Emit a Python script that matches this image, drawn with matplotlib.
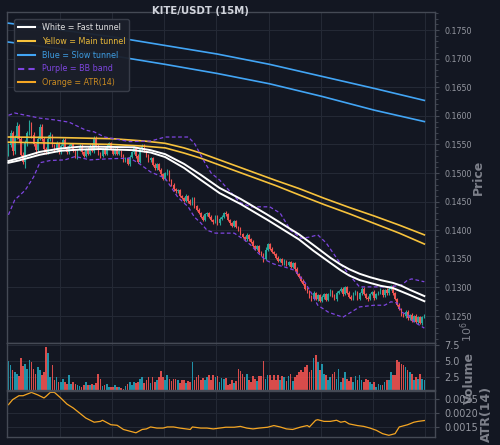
import numpy as np
import matplotlib
matplotlib.use("Agg")
import matplotlib.pyplot as plt
from matplotlib.ticker import MultipleLocator, AutoMinorLocator, FixedLocator
from matplotlib.lines import Line2D

# ---------------- data ----------------
first_open = 0.1535
closes = [
    0.1549, 0.1570, 0.1538, 0.1562, 0.1582, 0.1560, 0.1532, 0.1520, 0.1552, 0.1570,
    0.1586, 0.1566, 0.1550, 0.1540, 0.1560, 0.1580, 0.1560, 0.1542, 0.1536, 0.1560,
    0.1566, 0.1548, 0.1540, 0.1552, 0.1536, 0.1548, 0.1558, 0.1546, 0.1536, 0.1548,
    0.1550, 0.1538, 0.1528, 0.1540, 0.1548, 0.1536, 0.1530, 0.1542, 0.1534, 0.1548,
    0.1538, 0.1562, 0.1548, 0.1534, 0.1530, 0.1542, 0.1534, 0.1548, 0.1552, 0.1542,
    0.1534, 0.1542, 0.1534, 0.1538, 0.1530, 0.1522, 0.1526, 0.1516, 0.1528, 0.1536,
    0.1544, 0.1530, 0.1520, 0.1542, 0.1548, 0.1538, 0.1530, 0.1522, 0.1526, 0.1514,
    0.1508, 0.1516, 0.1506, 0.1498, 0.1490, 0.1500, 0.1504, 0.1488, 0.1480, 0.1472,
    0.1468, 0.1470, 0.1460, 0.1456, 0.1452, 0.1460, 0.1452, 0.1446, 0.1456, 0.1442,
    0.1436, 0.1430, 0.1424, 0.1418, 0.1428, 0.1430, 0.1424, 0.1418, 0.1414, 0.1424,
    0.1412, 0.1420, 0.1424, 0.1430, 0.1428, 0.1418, 0.1412, 0.1408, 0.1416, 0.1406,
    0.1402, 0.1394, 0.1388, 0.1384, 0.1392, 0.1384, 0.1380, 0.1372, 0.1368, 0.1372,
    0.1362, 0.1358, 0.1350, 0.1366, 0.1376, 0.1368, 0.1362, 0.1358, 0.1352, 0.1346,
    0.1350, 0.1342, 0.1346, 0.1340, 0.1344, 0.1336, 0.1342, 0.1332, 0.1324, 0.1318,
    0.1312, 0.1306, 0.1298, 0.1292, 0.1284, 0.1280, 0.1290, 0.1280, 0.1286, 0.1276,
    0.1284, 0.1288, 0.1278, 0.1288, 0.1294, 0.1286, 0.1280, 0.1290, 0.1294, 0.1298,
    0.1288, 0.1300, 0.1290, 0.1284, 0.1280, 0.1290, 0.1292, 0.1280, 0.1290, 0.1298,
    0.1288, 0.1282, 0.1280, 0.1288, 0.1292, 0.1282, 0.1288, 0.1292, 0.1296, 0.1286,
    0.1296, 0.1290, 0.1298, 0.1302, 0.1290, 0.1280, 0.1270, 0.1262, 0.1254, 0.1250,
    0.1258, 0.1246, 0.1252, 0.1242, 0.1250, 0.1240, 0.1248, 0.1238, 0.1248, 0.1252,
]
# wick lengths above / below the body, in units of 0.0001
upper_wick = [
    4, 6, 3, 5, 8, 4, 3, 5, 6, 4, 7, 3, 5, 2, 4, 6, 5, 3, 4, 6,
    5, 3, 2, 4, 3, 2, 3, 4, 2, 3, 2, 3, 2, 2, 3, 2, 3, 2, 3, 2,
    4, 3, 2, 2, 3, 2, 3, 2, 2, 3, 2, 2, 3, 2, 2, 3, 2, 2, 3, 2,
    3, 2, 4, 2, 3, 2, 2, 3, 2, 2, 3, 2, 2, 3, 2, 2, 3, 2, 2, 3,
    2, 2, 3, 2, 2, 3, 2, 2, 3, 2, 2, 3, 2, 2, 3, 2, 2, 3, 2, 2,
    3, 4, 2, 2, 3, 2, 2, 3, 2, 2, 2, 3, 2, 2, 3, 2, 2, 3, 2, 2,
    3, 2, 2, 4, 2, 2, 3, 2, 2, 3, 2, 2, 3, 2, 2, 3, 2, 2, 3, 2,
    2, 3, 2, 2, 3, 2, 4, 2, 2, 3, 2, 2, 3, 2, 3, 2, 2, 3, 2, 2,
    3, 2, 2, 3, 2, 2, 3, 2, 2, 3, 2, 2, 3, 2, 2, 3, 2, 2, 3, 2,
    2, 3, 2, 2, 3, 2, 2, 3, 2, 2, 3, 2, 2, 3, 2, 3, 2, 2, 3, 2,
]
lower_wick = [
    5, 3, 6, 4, 3, 5, 3, 4, 12, 5, 3, 4, 3, 6, 3, 2, 4, 6, 3, 3,
    4, 3, 2, 3, 2, 3, 2, 3, 2, 2, 3, 2, 2, 3, 2, 3, 2, 2, 3, 2,
    2, 3, 2, 2, 3, 2, 2, 3, 2, 2, 3, 2, 2, 3, 2, 2, 3, 2, 4, 2,
    2, 3, 2, 2, 3, 2, 2, 3, 2, 2, 3, 2, 2, 3, 2, 2, 3, 2, 2, 3,
    2, 3, 2, 2, 3, 2, 4, 2, 2, 3, 2, 2, 3, 2, 2, 3, 2, 2, 3, 2,
    2, 3, 2, 2, 3, 2, 2, 3, 2, 2, 3, 2, 2, 3, 2, 2, 3, 2, 2, 3,
    2, 3, 5, 2, 2, 3, 2, 2, 3, 2, 2, 3, 2, 2, 3, 2, 2, 3, 2, 2,
    2, 2, 3, 2, 2, 3, 2, 2, 3, 2, 2, 4, 2, 2, 3, 2, 2, 3, 2, 2,
    3, 2, 2, 3, 2, 2, 3, 2, 2, 3, 2, 2, 3, 2, 2, 3, 2, 2, 3, 2,
    2, 3, 3, 2, 3, 2, 3, 2, 3, 2, 3, 2, 3, 2, 3, 2, 3, 2, 3, 2,
]
# volume in millions
volume_m = [
    5.0, 4.3, 3.5, 3.3, 3.0, 2.6, 5.5, 4.2, 4.6, 3.8, 5.2, 4.8, 3.8, 3.0, 4.1, 3.5, 2.8, 3.2, 7.2, 6.3,
    2.5, 4.3, 1.9, 2.5, 1.7, 1.7, 2.1, 1.7, 1.4, 2.8, 1.3, 1.6, 1.3, 1.2, 1.0, 0.9, 1.2, 1.7, 1.1, 1.1,
    1.3, 1.2, 1.45, 3.0, 2.1, 1.0, 1.1, 1.3, 0.9, 0.8, 0.9, 1.2, 0.8, 0.9, 0.7, 0.6, 1.0, 1.3, 1.6, 1.2,
    1.7, 1.45, 1.6, 2.1, 2.5, 1.45, 1.9, 2.5, 1.45, 2.4, 1.7, 2.0, 2.5, 3.4, 2.5, 2.0, 2.8, 2.2, 1.8, 2.2,
    2.1, 2.0, 1.5, 1.9, 2.0, 1.5, 1.8, 1.7, 4.8, 1.9, 2.4, 2.8, 2.0, 2.3, 2.0, 2.4, 2.8, 1.9, 2.8, 2.5,
    2.6, 1.7, 2.3, 2.1, 2.3, 1.2, 1.3, 1.9, 1.5, 1.8, 3.8, 3.4, 3.0, 2.4, 2.9, 2.0, 1.7, 2.6, 2.2, 1.8,
    2.6, 2.6, 5.0, 2.1, 2.7, 2.8, 1.9, 2.8, 2.0, 2.7, 1.9, 2.6, 2.4, 1.8, 2.6, 3.0, 1.8, 2.4, 2.8, 3.2,
    3.6, 3.2, 4.0, 4.3, 3.3, 3.6, 5.5, 6.0, 4.8, 3.6, 4.5, 3.0, 2.8, 2.0, 2.4, 2.9, 3.2, 2.2, 3.7, 1.6,
    2.3, 3.3, 2.2, 1.8, 2.4, 1.7, 2.6, 2.0, 2.8, 2.0, 1.6, 2.1, 1.9, 1.6, 1.4, 1.6, 0.9, 1.3, 1.2, 1.2,
    1.7, 1.9, 2.0, 3.2, 2.8, 2.8, 5.2, 4.9, 4.6, 4.3, 4.0, 3.6, 3.3, 3.0, 2.0, 2.4, 2.2, 3.0, 2.1, 2.0,
]

# indicator lines, sampled at candle indices
fast_idx = [0, 5, 15, 25, 34, 44, 60, 68, 75, 84, 92, 101, 111, 124, 139, 146, 154, 159, 163, 168,
            173, 178, 184, 188, 192, 199]
fast_upper = [0.1521, 0.1526, 0.1537, 0.1543, 0.1546, 0.1546, 0.1545, 0.1540, 0.1533, 0.1516, 0.1497,
              0.1474, 0.1455, 0.1427, 0.1393, 0.1374, 0.1352, 0.1340, 0.1332, 0.1324, 0.1318, 0.1313,
              0.1308, 0.1303, 0.1296, 0.1285]
fast_lower = [0.1518, 0.1522, 0.1532, 0.1539, 0.1541, 0.1542, 0.1540, 0.1536, 0.1528, 0.1509, 0.1488,
              0.1465, 0.1446, 0.1418, 0.1384, 0.1364, 0.1343, 0.1330, 0.1321, 0.1313, 0.1308, 0.1303,
              0.1299, 0.1293, 0.1287, 0.1276]

main_idx = [0, 25, 50, 65, 75, 84, 92, 104, 116, 128, 139, 151, 163, 175, 187, 199]
main_upper = [0.1563, 0.1562, 0.1560, 0.1556, 0.1552, 0.1544, 0.1535, 0.1519, 0.1503, 0.1487, 0.1473,
              0.1456, 0.1440, 0.1425, 0.1409, 0.1392]
main_lower = [0.1554, 0.1552, 0.1550, 0.1547, 0.1544, 0.1535, 0.1526, 0.1510, 0.1494, 0.1478, 0.1462,
              0.1445, 0.1429, 0.1412, 0.1395, 0.1376]

slow_idx = [0, 25, 50, 75, 100, 125, 150, 175, 199]
slow_upper = [0.1762, 0.1750, 0.1738, 0.1723, 0.1708, 0.1690, 0.1669, 0.1648, 0.1627]
slow_lower = [0.1729, 0.1717, 0.1705, 0.1690, 0.1674, 0.1656, 0.1634, 0.1610, 0.1590]

bb_up_idx = [0, 3, 15, 22, 29, 37, 41, 46, 58, 68, 75, 86, 89, 94, 97, 101, 111, 116, 125, 130, 135,
             140, 144, 148, 152, 159, 164, 168, 175, 182, 188, 191, 193, 199]
bb_upper = [0.1601, 0.1605, 0.1596, 0.1593, 0.1589, 0.1575, 0.1572, 0.1563, 0.1555, 0.1556, 0.1563,
            0.1563, 0.1552, 0.1518, 0.1500, 0.1488, 0.1448, 0.1441, 0.1441, 0.1430, 0.1400, 0.1386,
            0.1388, 0.1392, 0.1378, 0.1341, 0.1318, 0.1301, 0.1301, 0.1301, 0.1304, 0.1313, 0.1315, 0.1310]
bb_lo_idx = [0, 3, 8, 12, 15, 20, 27, 32, 39, 48, 58, 62, 68, 75, 81, 86, 89, 92, 95, 99, 108, 113, 116,
             119, 123, 127, 132, 137, 142, 145, 148, 153, 160, 164, 168, 175, 180, 183, 186, 188, 191, 194, 199]
bb_lower = [0.1427, 0.1453, 0.1470, 0.1493, 0.1518, 0.1522, 0.1523, 0.1529, 0.1523, 0.1525, 0.1526,
            0.1518, 0.1502, 0.1491, 0.1458, 0.1441, 0.1423, 0.1413, 0.1400, 0.1395, 0.1395, 0.1383,
            0.1374, 0.1362, 0.1348, 0.1341, 0.1336, 0.1330, 0.1308, 0.1290, 0.1269, 0.1257, 0.1248,
            0.1257, 0.1266, 0.1269, 0.1269, 0.1275, 0.1273, 0.1257, 0.1252, 0.1240, 0.1229]

atr_idx = [0, 2, 5, 7, 10, 11, 14, 17, 18, 20, 22, 25, 28, 31, 34, 37, 41, 44, 45, 49, 52, 55, 58, 61,
           64, 66, 68, 71, 74, 76, 79, 82, 87, 88, 92, 95, 98, 101, 104, 108, 111, 114, 117, 120, 124,
           127, 130, 133, 136, 140, 143, 144, 147, 148, 151, 154, 157, 159, 161, 163, 167, 170, 173,
           176, 179, 182, 185, 187, 191, 194, 196, 199]
atr_vals = [0.00230, 0.00248, 0.00262, 0.00262, 0.00271, 0.00274, 0.00265, 0.00254, 0.00260, 0.00274,
            0.00274, 0.00254, 0.00232, 0.00218, 0.00200, 0.00182, 0.00167, 0.00170, 0.00174, 0.00158,
            0.00156, 0.00141, 0.00135, 0.00129, 0.00141, 0.00143, 0.00150, 0.00146, 0.00146, 0.00150,
            0.00150, 0.00146, 0.00141, 0.00150, 0.00146, 0.00146, 0.00143, 0.00146, 0.00149, 0.00149,
            0.00152, 0.00146, 0.00143, 0.00146, 0.00149, 0.00155, 0.00150, 0.00143, 0.00141, 0.00150,
            0.00155, 0.00150, 0.00174, 0.00176, 0.00170, 0.00170, 0.00174, 0.00167, 0.00170, 0.00161,
            0.00155, 0.00152, 0.00146, 0.00138, 0.00126, 0.00120, 0.00126, 0.00150, 0.00158, 0.00167,
            0.00170, 0.00173]

title = "KITE/USDT (15M)"
legend_labels = ["White = Fast tunnel", "Yellow = Main tunnel", "Blue = Slow tunnel",
                 "Purple = BB band", "Orange = ATR(14)"]

# ---------------- style ----------------
BG = "#131722"
GRID = "#252a36"
SPINE = "#454a55"
TXT = "#9598a1"
LBL = "#7d808a"
UP = "#26a69a"
DN = "#ef5350"
VUP = "#22a0b8"
C_WHITE = "#ffffff"
C_YELLOW = "#f7c23c"
C_BLUE = "#42a5f5"
C_PURPLE = "#7e45e0"
C_ORANGE = "#f5a623"

plt.rcParams['font.family'] = ['DejaVu Sans']

fig = plt.figure(figsize=(5.0, 4.45), dpi=100, facecolor=BG)
L, R = 0.014, 0.870
ax = fig.add_axes([L, 0.229, R - L, 0.744])
axv = fig.add_axes([L, 0.124, R - L, 0.105], sharex=ax)
axa = fig.add_axes([L, 0.018, R - L, 0.104], sharex=ax)

n = len(closes)
x = np.arange(n)
c = np.array(closes)
o = np.concatenate([[first_open], c[:-1]])
hi = np.maximum(o, c) + np.array(upper_wick) * 1e-4
lo = np.minimum(o, c) - np.array(lower_wick) * 1e-4
up = c >= o
cols = np.where(up, UP, DN)

for a, fs in ((ax, 5.7), (axv, 7), (axa, 7)):
    a.set_facecolor(BG)
    for s in a.spines.values():
        s.set_color(SPINE)
        s.set_linewidth(1.0)
    a.yaxis.tick_right()
    a.yaxis.set_label_position('right')
    a.tick_params(axis='y', colors=TXT, labelsize=fs, length=3, color=SPINE)
    a.tick_params(axis='y', which='minor', length=2, color=SPINE)
    a.tick_params(axis='x', bottom=False, labelbottom=False, which='both')
    a.xaxis.set_major_locator(FixedLocator(np.arange(24.5, 210, 25)))
    a.grid(True, color=GRID, linewidth=0.7)
    a.set_axisbelow(True)

# candles
ax.vlines(x, lo, hi, colors=cols, linewidth=0.8, zorder=3)
body_lo = np.minimum(o, c)
body_h = np.maximum(np.abs(c - o), 0.00004)
ax.bar(x, body_h, bottom=body_lo, width=0.75, color=cols, linewidth=0, zorder=3)

# lines
ax.plot(slow_idx, slow_upper, color=C_BLUE, lw=1.2, zorder=4)
ax.plot(slow_idx, slow_lower, color=C_BLUE, lw=1.2, zorder=4)
ax.plot(main_idx, main_upper, color=C_YELLOW, lw=1.2, zorder=4)
ax.plot(main_idx, main_lower, color=C_YELLOW, lw=1.2, zorder=4)
ax.plot(fast_idx, fast_upper, color=C_WHITE, lw=1.4, zorder=5)
ax.plot(fast_idx, fast_lower, color=C_WHITE, lw=1.4, zorder=5)
ax.plot(bb_up_idx, bb_upper, color=C_PURPLE, lw=0.9, ls=(0, (3, 2)), zorder=4)
ax.plot(bb_lo_idx, bb_lower, color=C_PURPLE, lw=0.9, ls=(0, (3, 2)), zorder=4)

ax.set_xlim(-0.7, 204.1)
ax.set_ylim(0.12028, 0.17815)
ax.yaxis.set_major_locator(MultipleLocator(0.005))
ax.yaxis.set_minor_locator(AutoMinorLocator(5))
ax.yaxis.set_major_formatter(plt.FormatStrFormatter('%.4f'))
ax.set_ylabel("Price", color=LBL, fontsize=9, fontweight='bold')
ax.yaxis.set_label_coords(1.086, 0.5)

# volume
vcols = np.where(up, VUP, DN)
axv.bar(x, np.array(volume_m) * 1e6, width=0.8, color=vcols, alpha=0.9, linewidth=0)
axv.set_ylim(0.4e6, 7.86e6)
axv.yaxis.set_major_locator(FixedLocator([2.5e6, 5.0e6, 7.5e6]))
axv.yaxis.set_major_formatter(plt.FuncFormatter(lambda v, p: f"{v/1e6:.1f}"))
axv.set_ylabel("Volume", color=LBL, fontsize=9, fontweight='bold')
axv.yaxis.set_label_coords(1.066, 0.25)
fig.text(0.934, 0.254, r"$10^{6}$", rotation=90, color=LBL, fontsize=8,
         ha='center', va='center')

# ATR
axa.plot(atr_idx, atr_vals, color=C_ORANGE, lw=0.9)
axa.set_ylim(0.00114, 0.00280)
axa.yaxis.set_major_locator(FixedLocator([0.0015, 0.0020, 0.0025]))
axa.yaxis.set_major_formatter(plt.FormatStrFormatter('%.4f'))
axa.set_ylabel("ATR(14)", color=LBL, fontsize=9, fontweight='bold')
axa.yaxis.set_label_coords(1.104, 0.5)

# title
fig.text(0.401, 1 - 11 / 445, title, color="#d1d4dc", fontsize=7.3, fontweight='bold',
         ha='center', va='center')

# legend
handles = [
    Line2D([], [], color=C_WHITE, lw=1.5),
    Line2D([], [], color=C_YELLOW, lw=1.5),
    Line2D([], [], color=C_BLUE, lw=1.5),
    Line2D([], [], color=C_PURPLE, lw=1.5, ls=(0, (3, 2))),
    Line2D([], [], color=C_ORANGE, lw=1.5),
]
leg = ax.legend(handles, legend_labels, loc='upper left', bbox_to_anchor=(0.007, 0.99),
                fontsize=5.8, facecolor="#1b1f2a", edgecolor="#3a3f4b", framealpha=0.95,
                handlelength=2.2, borderpad=0.45, labelspacing=0.6, handletextpad=0.8)
txt_cols = ["#e0e0e0", "#e9b93a", "#3d9be0", "#7e45e0", "#c98a22"]
for t, col in zip(leg.get_texts(), txt_cols):
    t.set_color(col)
leg.set_zorder(10)

fig.savefig("out.png", dpi=100, facecolor=BG)
